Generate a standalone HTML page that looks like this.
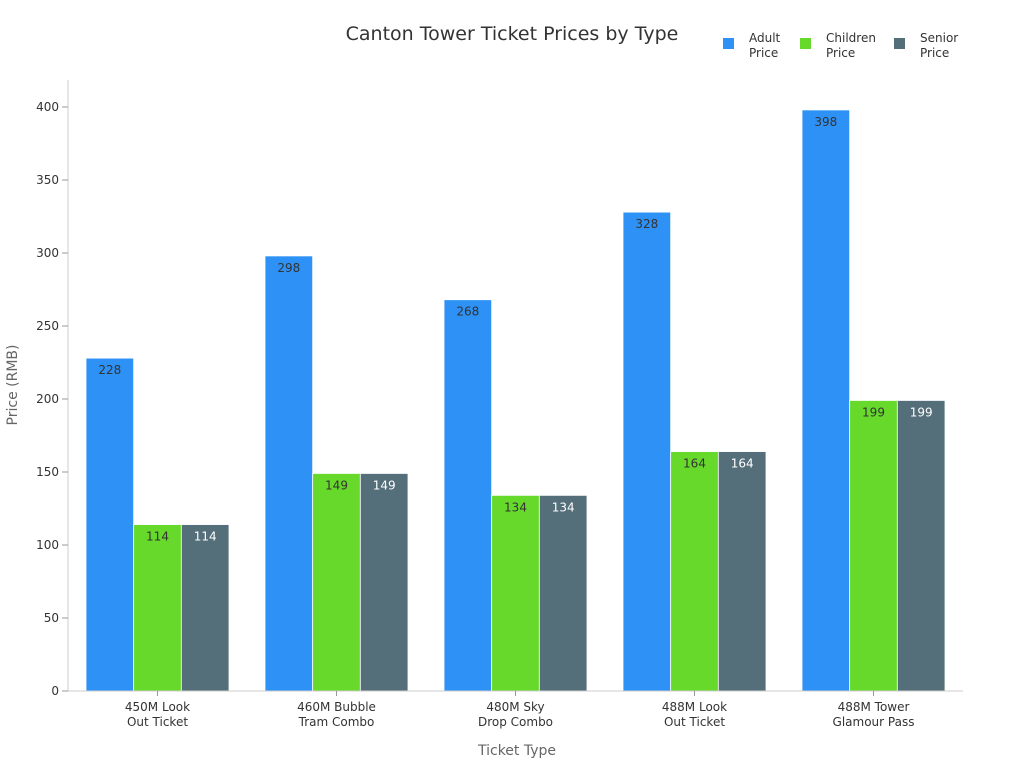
<!DOCTYPE html>
<html><head><meta charset="utf-8"><style>
body{margin:0;background:#fff;font-family:"Liberation Sans","DejaVu Sans",sans-serif;}
svg text{font-family:"DejaVu Sans","Liberation Sans",sans-serif;}
</style></head><body>
<svg id="chart" width="1024" height="768" xmlns="http://www.w3.org/2000/svg">
<text x="512" y="40" text-anchor="middle" font-size="19" fill="#333">Canton Tower Ticket Prices by Type</text>
<g id="legend"></g>
<g id="grid"></g>
<g id="bars"></g>
<g id="axes"></g>
<text transform="translate(17,385) rotate(-90)" text-anchor="middle" font-size="14" fill="#666">Price (RMB)</text>
<text x="517" y="755" text-anchor="middle" font-size="14" fill="#666">Ticket Type</text>
</svg>
<script>
const categories = [["450M Look","Out Ticket"],["460M Bubble","Tram Combo"],["480M Sky","Drop Combo"],["488M Look","Out Ticket"],["488M Tower","Glamour Pass"]];
const adultPrice = [228,298,268,328,398];
const childrenPrice = [114,149,134,164,199];
const seniorPrice = [114,149,134,164,199];
const yTicks = [0,50,100,150,200,250,300,350,400];
const seriesNames = [["Adult","Price"],["Children","Price"],["Senior","Price"]];

const NS="http://www.w3.org/2000/svg";
const x0=68,x1=963,yBase=691,yTop=107,yMaxVal=400;
const colors=["#2E91F5","#66D92A","#546E7A"];
const labelColors=["#333","#333","#fff"];
function y(v){return yBase-(v/yMaxVal)*(yBase-yTop);}
const band=(x1-x0)/categories.length, pad=18, bw=(band-2*pad)/3;
function mk(tag,attrs,parent){const e=document.createElementNS(NS,tag);for(const k in attrs)e.setAttribute(k,attrs[k]);parent.appendChild(e);return e;}
const axes=document.getElementById('axes'),bars=document.getElementById('bars'),legend=document.getElementById('legend');
let a=mk('line',{x1:x0,y1:80,x2:x0,y2:yBase,stroke:'#ccc'},axes);


a=mk('line',{x1:x0,y1:yBase,x2:x1,y2:yBase,stroke:'#ccc'},axes);


yTicks.forEach(t=>{
  mk('line',{x1:x0-6,y1:y(t),x2:x0,y2:y(t),stroke:'#999'},axes);
  const tx=mk('text',{x:x0-9,y:y(t)+4,'text-anchor':'end','font-size':12,fill:'#333'},axes);
  tx.textContent=t;
  
  
});
const series=[adultPrice,childrenPrice,seniorPrice];
categories.forEach((c,i)=>{
  const bx=x0+band*i+pad;
  series.forEach((s,j)=>{
    const v=s[i];
    const r=mk('rect',{x:bx+j*bw,y:y(v),width:bw,height:yBase-y(v),fill:colors[j],stroke:'#fff','stroke-width':0.8},bars);
    
    
    const t=mk('text',{x:bx+j*bw+bw/2,y:y(v)+16,'text-anchor':'middle','font-size':12,fill:labelColors[j]},bars);
    t.textContent=v;
    
    
  });
  const cx=x0+band*i+band/2;
  mk('line',{x1:cx,y1:yBase,x2:cx,y2:yBase+5,stroke:'#999'},axes);
  c.forEach((line,k)=>{
    const t=mk('text',{x:cx,y:yBase+20+k*15,'text-anchor':'middle','font-size':12,fill:'#333'},axes);
    t.textContent=line;
    
    
  });
});
const lx=[723,800,894];
seriesNames.forEach((n,j)=>{
  const g=mk('g',{},legend);
  
  
  mk('rect',{x:lx[j],y:38,width:11,height:11,fill:colors[j]},g);
  n.forEach((l,k)=>{const t=mk('text',{x:lx[j]+26,y:42+k*15,'font-size':12,fill:'#333'},g);t.textContent=l;});
});
</script>
</body></html>
